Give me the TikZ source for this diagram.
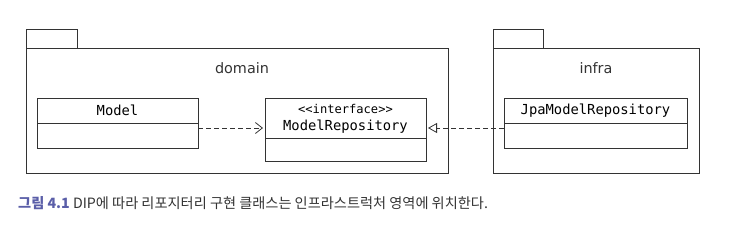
\documentclass[tikz,border=0pt]{standalone}
\usepackage{fontspec}
\usepackage{xcolor}
\usetikzlibrary{arrows.meta, positioning}
\newfontfamily\monofont{DejaVu Sans Mono}
\newfontfamily\pkgfont{DejaVu Sans}
\newfontfamily\cjkfont{Noto Sans CJK KR}
\definecolor{linie}{HTML}{333333}
\definecolor{abbnr}{HTML}{5A5EA8}
\tikzset{
  paket/.style={draw=linie, line width=0.9pt, inner sep=0pt, outer sep=0pt},
  klasse/.style={draw=linie, line width=0.9pt, inner sep=0pt, outer sep=0pt,
    align=center, font=\monofont\fontsize{13.8}{17}\selectfont},
  abh/.style={draw=linie, line width=0.8pt, dash pattern=on 5pt off 3pt},
}

\begin{document}
\begin{tikzpicture}[x=1pt, y=-1pt]

  \useasboundingbox (0,0) rectangle (730,236);

  % Pakete mit Reiter
  \node[paket, minimum width=421.3pt, minimum height=125pt] (domain) at (237.35,110.5) {};
  \node[paket, minimum width=50.3pt, minimum height=19pt, above right=0pt and 0pt of domain.north west] (domainreiter) {};
  \node[paket, minimum width=206pt, minimum height=125pt] (infra) at (596,110.5) {};
  \node[paket, minimum width=50pt, minimum height=19pt, above right=0pt and 0pt of infra.north west] (infrareiter) {};

  % Paketnamen
  \node[font=\pkgfont\fontsize{14.4}{16}\selectfont, text=linie] (domainname) at (242,68) {domain};
  \node[font=\pkgfont\fontsize{14.4}{16}\selectfont, text=linie] (infraname) at (596,68) {infra};

  % Klassen
  \node[klasse, minimum width=161pt, minimum height=25pt] (modelkopf) at (117.5,110.5) {Model};
  \node[klasse, minimum width=161pt, minimum height=25pt, below=0pt of modelkopf] (modelrumpf) {};

  \node[klasse, minimum width=161pt, minimum height=40pt] (repokopf) at (345.5,118.5)
    {{\fontsize{12.1}{17}\selectfont <{}<interface>{}>}\\ModelRepository};
  \node[klasse, minimum width=161pt, minimum height=23pt, below=0pt of repokopf] (reporumpf) {};

  \node[klasse, minimum width=183pt, minimum height=25pt] (jpakopf) at (595.5,110.5) {JpaModelRepository};
  \node[klasse, minimum width=183pt, minimum height=25pt, below=0pt of jpakopf] (jparumpf) {};

  % Abhaengigkeiten
  \coordinate (pfeilhoehe) at (0,128);
  \draw[abh, -{Straight Barb[length=7pt, width=11pt, line width=0.8pt]}, shorten >=2pt]
    (modelrumpf.east |- pfeilhoehe) -- (repokopf.west |- pfeilhoehe);
  \draw[abh, -{Triangle[open, length=9pt, width=10pt, line width=0.8pt]}, shorten >=2pt]
    (jparumpf.west |- pfeilhoehe) -- (repokopf.east |- pfeilhoehe);

  % Bildunterschrift
  \node[anchor=base west, inner sep=0pt, font=\cjkfont\fontsize{14.2}{16}\selectfont] (bildtext) at (18,208)
    {\textcolor{abbnr}{\bfseries 그림 4.1} \textcolor{linie}{DIP에 따라 리포지터리 구현 클래스는 인프라스트럭처 영역에 위치한다.}};

\end{tikzpicture}
\end{document}
